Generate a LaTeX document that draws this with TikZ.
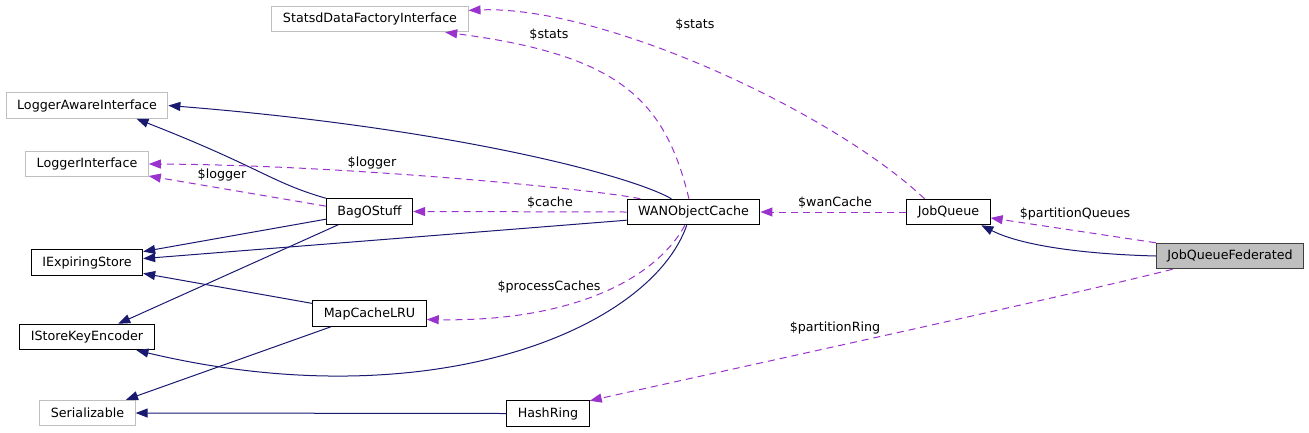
\documentclass[tikz,border=0pt]{standalone}
\usepackage{fontspec}
\setmainfont{DejaVu Sans}
\usepackage{xcolor}
\usepackage{tikz}
\usetikzlibrary{arrows.meta}

\definecolor{edgeblue}{HTML}{191970}
\definecolor{edgepurple}{HTML}{9A32CD}
\definecolor{ifacegray}{HTML}{BFBFBF}

\begin{document}
\begin{tikzpicture}[
        x=1pt, y=-1pt,
        box/.style={rectangle, draw=black, line width=1pt, inner xsep=11pt, minimum height=25.5pt, font=\fontsize{12.7}{15}\selectfont},
        cls_node/.style={box},
        iface_node/.style={box, draw=ifacegray},
        focus_node/.style={box, fill=ifacegray, draw=black!75},
        inherit/.style={-{Triangle[length=12pt, width=9pt]}, line width=1pt, draw=edgeblue},
        usage/.style={-{Triangle[length=12pt, width=9pt]}, line width=1pt, draw=edgepurple, dash pattern=on 7pt off 5pt},
        edge_text/.style={inner sep=1pt, font=\fontsize{12.7}{15}\selectfont}
    ]
        \useasboundingbox (0,0) rectangle (1309,432);

        % Nodes
        \node[iface_node] (sdf) at (370,19) {StatsdDataFactoryInterface};
        \node[iface_node] (lai) at (87,105.5) {LoggerAwareInterface};
        \node[iface_node] (li) at (87,164) {LoggerInterface};
        \node[cls_node] (bag) at (369.5,211.5) {BagOStuff};
        \node[cls_node] (ies) at (87,262.5) {IExpiringStore};
        \node[cls_node] (iske) at (87,337) {IStoreKeyEncoder};
        \node[iface_node] (ser) at (87.5,413) {Serializable};
        \node[cls_node] (mcl) at (369.5,313.5) {MapCacheLRU};
        \node[cls_node] (wan) at (693.5,212) {WANObjectCache};
        \node[cls_node] (hr) at (548,413.5) {HashRing};
        \node[cls_node] (jq) at (948.5,212) {JobQueue};
        \node[focus_node] (jqf) at (1230,256) {JobQueueFederated};

        % Inheritance
        \draw[inherit] (bag.north west) .. controls (270,182) and (262,168) .. (lai.-15);
        \draw[inherit] (wan.149) .. controls (630,175) and (450,128) .. (lai.east);
        \draw[inherit] (wan.187) -- (ies.4);
        \draw[inherit] (bag.190) -- (ies.11);
        \draw[inherit] (mcl.170) -- (ies.-11);
        \draw[inherit] (bag.203) -- (iske.23);
        \draw[inherit] (wan.243) .. controls (650,330) and (430,420) .. (iske.-15);
        \draw[inherit] (mcl.199) -- (ser.19);
        \draw[inherit] (hr.west) -- (ser.east);
        \draw[inherit] (jqf.west) .. controls (1080,254) and (1020,245) .. (jq.-22);

        % Usage
        \draw[usage] (wan.109) .. controls (665,100) and (620,55) .. (sdf.-10);
        \draw[usage] (jq.151) .. controls (830,110) and (600,5) .. (sdf.5);
        \draw[usage] (wan.166) .. controls (600,190) and (350,165) .. (li.east);
        \draw[usage] (bag.173) -- (li.-11);
        \draw[usage] (wan.west) -- (bag.east);
        \draw[usage] (jq.west) -- (wan.east);
        \draw[usage] (wan.237) .. controls (655,280) and (570,322) .. (mcl.-6);
        \draw[usage] (jqf.north west) -- (jq.-8);
        \draw[usage] (jqf.193) .. controls (1050,300) and (750,365) .. (hr.17);

        % Labels
        \node[edge_text] (t_stats_wan) at (549,35) {\$stats};
        \node[edge_text] (t_stats_jq) at (695,25) {\$stats};
        \node[edge_text] (t_logger_wan) at (372,163) {\$logger};
        \node[edge_text] (t_logger_bag) at (222,175) {\$logger};
        \node[edge_text] (t_cache) at (550,203) {\$cache};
        \node[edge_text] (t_wancache) at (835,203) {\$wanCache};
        \node[edge_text] (t_proc) at (549,287) {\$processCaches};
        \node[edge_text] (t_pq) at (1075,214) {\$partitionQueues};
        \node[edge_text] (t_pr) at (835,328) {\$partitionRing};

    \end{tikzpicture}
\end{document}
